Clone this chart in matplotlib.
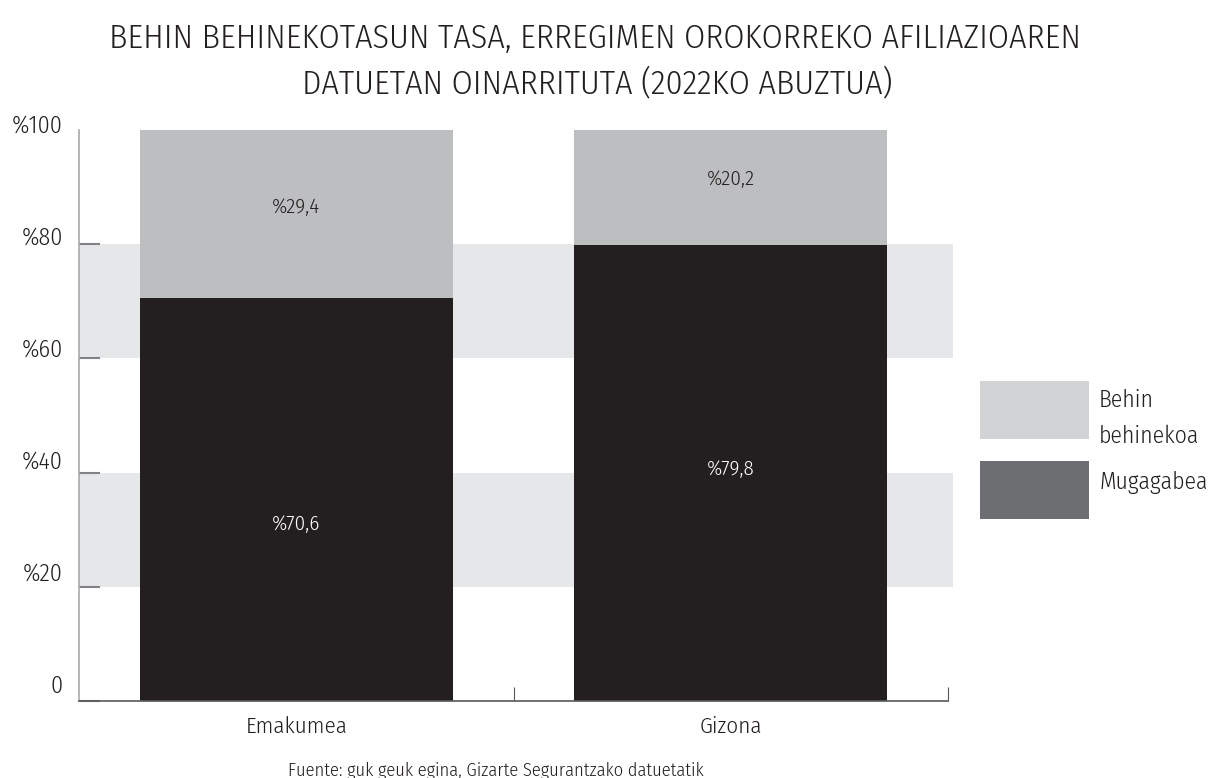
import matplotlib
matplotlib.use('Agg')
import matplotlib.pyplot as plt
from matplotlib.patches import Rectangle

plt.rcParams['font.family'] = ['Fira Sans Condensed', 'Open Sans', 'DejaVu Sans']
plt.rcParams['font.weight'] = 300

# datos
categorias = ['Emakumea', 'Gizona']
mugagabea = [70.6, 79.8]
behin_behinekoa = [29.4, 20.2]
serie_labels = [['Behin', 'behinekoa'], ['Mugagabea']]
yticks = [0, 20, 40, 60, 80, 100]
ytick_labels = ['0', '%20', '%40', '%60', '%80', '%100']
titulo = ['BEHIN BEHINEKOTASUN TASA, ERREGIMEN OROKORREKO AFILIAZIOAREN',
          'DATUETAN OINARRITUTA (2022KO ABUZTUA)']
fuente = 'Fuente: guk geuk egina, Gizarte Segurantzako datuetatik'

DARK = '#231f20'
LIGHT = '#bcbec0'
BAND = '#e6e7e8'
TXT = '#231f20'

W, H = 1220, 778
fig = plt.figure(figsize=(W/100, H/100), dpi=100)
ren = fig.canvas.get_renderer()


def fit(t, width_px):
    """ajusta el tamaño de letra al ancho medido en la referencia"""
    w = t.get_window_extent(renderer=ren).width
    t.set_fontsize(t.get_fontsize() * width_px / w)
    return t.get_fontsize()


def fy(ypx):
    return 1 - ypx / H


ax = fig.add_axes([79/W, 77/H, (948-79)/W, (701-130)/H])

# franjas grises
for lo in (20, 60):
    ax.axhspan(lo, lo + 20, xmin=0, xmax=1.006, color=BAND, lw=0, zorder=0, clip_on=False)

x = [0.5, 1.5]
ax.bar(x, mugagabea, width=0.72, color=DARK, zorder=2)
ax.bar(x, behin_behinekoa, bottom=mugagabea, width=0.72, color=LIGHT, zorder=2)

ax.set_xlim(0, 2)
ax.set_ylim(0, 100)

# etiquetas de valores (línea base)
label_y = [[30.0, 85.5], [39.6, 90.3]]
sz = None
for i in range(2):
    t1 = ax.text(x[i], label_y[i][0], '%' + f'{mugagabea[i]:.1f}'.replace('.', ','),
                 color='white', ha='center', va='baseline', fontsize=15, zorder=3)
    t2 = ax.text(x[i], label_y[i][1], '%' + f'{behin_behinekoa[i]:.1f}'.replace('.', ','),
                 color=TXT, ha='center', va='baseline', fontsize=15, zorder=3)
    if sz is None:
        sz = fit(t2, 48)
    t1.set_fontsize(sz)
    t2.set_fontsize(sz)

for s in ('top', 'right'):
    ax.spines[s].set_visible(False)
ax.spines['left'].set_color('#a7a9ac')
ax.spines['left'].set_linewidth(1.2)
ax.spines['bottom'].set_color('#58595b')
ax.spines['bottom'].set_linewidth(1.2)

ax.set_yticks(yticks)
ax.set_yticklabels([])
ax.tick_params(axis='y', direction='in', length=15, width=1.5, color='#808285')
ax.yaxis.get_major_ticks()[-1].tick1line.set_visible(False)

# etiquetas del eje y (un poco desplazadas como en el original)
tmp = fig.text(0, 0, ytick_labels[-1], fontsize=17)
ysz = fit(tmp, 51)
tmp.remove()
for v, lab in zip(yticks, ytick_labels):
    fig.text(63/W, fy(133 + (100 - v) / 100 * 560), lab, ha='right', va='baseline',
             fontsize=ysz, color=TXT)

ax.set_xticks([1, 2])
ax.set_xticklabels([])
ax.tick_params(axis='x', direction='in', length=10, width=0.8, color='#58595b')
csz = None
for xi, c in zip(x, categorias):
    t = ax.text(xi, -5.6, c, ha='center', va='baseline', fontsize=18, color=TXT)
    if csz is None:
        csz = fit(t, 102)
    t.set_fontsize(csz)

# leyenda manual
leg_colors = ['#d1d3d4', '#6d6e71']
leg_top = [381, 461]
leg_base = [[407, 443], [489]]
leg_txt = []
for col, top, bases, labs in zip(leg_colors, leg_top, leg_base, serie_labels):
    fig.add_artist(Rectangle((980/W, fy(top + 58)), 109/W, 58/H,
                             transform=fig.transFigure, color=col, lw=0))
    for b, lab in zip(bases, labs):
        leg_txt.append(fig.text(1099/W, fy(b), lab, ha='left', va='baseline',
                                fontsize=18, color=TXT))
lsz = fit(leg_txt[-1], 109)
for t in leg_txt:
    t.set_fontsize(lsz)

# título
t1 = fig.text(595/W, fy(48), titulo[0], ha='center', va='baseline', fontsize=26, color=TXT)
tsz = fit(t1, 970)
fig.text(597/W, fy(93), titulo[1], ha='center', va='baseline', fontsize=tsz, color=TXT)

# fuente
tmp = fig.text(0, 0, 'Fuente: guk geuk egina, Gizarte Segurantzako d', fontsize=12)
fsz = fit(tmp, 352)
tmp.remove()
fig.text(288/W, fy(776), fuente, ha='left', va='baseline', fontsize=fsz, color=TXT)

fig.savefig('out.png', dpi=100)
